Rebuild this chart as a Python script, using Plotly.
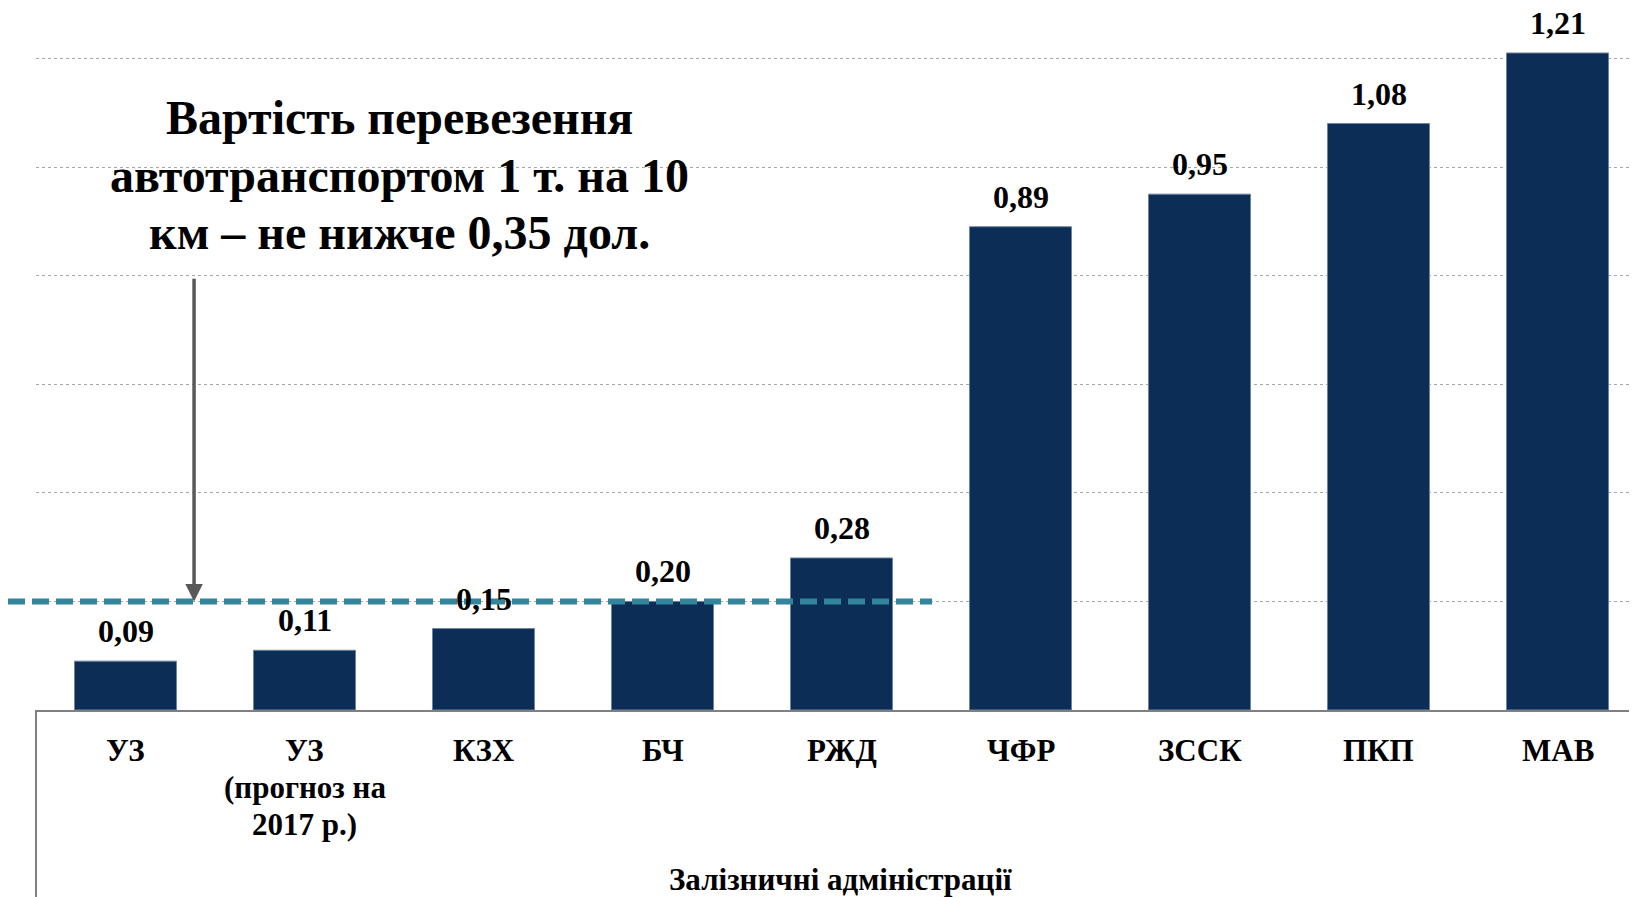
import plotly.graph_objects as go

categories = ["УЗ", "УЗ<br>(прогноз на<br>2017 р.)", "КЗХ", "БЧ", "РЖД", "ЧФР", "ЗССК", "ПКП", "МАВ"]
values = [0.09, 0.11, 0.15, 0.20, 0.28, 0.89, 0.95, 1.08, 1.21]
threshold = 0.20
note_lines = ["Вартість перевезення", "автотранспортом 1 т. на 10", "км – не нижче 0,35 дол."]
x_title = "Залізничні адміністрації"

FONT = "Liberation Serif, Times New Roman, serif"
BAR = "#0C2E56"
TEAL = "#31869B"

# page offset of 8px (body margin) is compensated in margins
PLOT_TOP = 8
BASE = 710
PLOT_H = BASE - PLOT_TOP
PX_PER_UNIT = 543.0
LEFT = 36
PLOT_W = 1645 - LEFT
CAT_W = 179.0


def px_x(page_x):
    return (page_x - LEFT) / PLOT_W


def px_y(page_y):
    return (BASE - page_y) / PLOT_H


fig = go.Figure()
fig.add_trace(go.Bar(
    x=list(range(len(categories))), y=values,
    marker=dict(color=BAR, line=dict(color="#6D84A3", width=1)),
    width=0.57, hoverinfo="skip",
))

annotations = []
for i, v in enumerate(values):
    annotations.append(dict(
        x=i, y=v, xref="x", yref="y", text="<b>%s</b>" % f"{v:.2f}".replace(".", ","),
        showarrow=False, yanchor="middle", yshift=30,
        font=dict(family=FONT, size=32, color="#000000"),
    ))

# category labels (line by line for tight spacing)
for i, c in enumerate(categories):
    for j, line in enumerate(c.split("<br>")):
        annotations.append(dict(
            x=i, y=0, xref="x", yref="y", text="<b>" + line + "</b>",
            showarrow=False, yanchor="middle", yshift=-(40 + 37 * j),
            font=dict(family=FONT, size=31, color="#000000"),
        ))

# headline note
for j, (line, py) in enumerate(zip(note_lines, [118, 175, 232])):
    annotations.append(dict(
        x=px_x(399), y=px_y(py), xref="paper", yref="paper", text="<b>" + line + "</b>",
        showarrow=False, xanchor="center", yanchor="middle",
        font=dict(family=FONT, size=48, color="#000000"),
    ))
# arrow
annotations.append(dict(
    x=0.383, y=threshold, xref="x", yref="y",
    ax=0.383, ay=0.797, axref="x", ayref="y",
    text="", showarrow=True, arrowhead=2, arrowsize=1.0, arrowwidth=3.5,
    arrowcolor="#595959",
))
# axis title
annotations.append(dict(
    x=px_x(840), y=px_y(880), xref="paper", yref="paper", text="<b>" + x_title + "</b>",
    showarrow=False, xanchor="center", yanchor="middle",
    font=dict(family=FONT, size=31, color="#000000"),
))

shapes = [
    dict(type="line", xref="paper", yref="y", x0=px_x(8), x1=px_x(932), y0=threshold, y1=threshold,
         line=dict(color=TEAL, width=6, dash="17px,7px"), layer="above"),
    dict(type="line", xref="paper", yref="paper", x0=0, x1=0, y0=0, y1=-0.3,
         line=dict(color="#808080", width=2)),
]

fig.update_layout(
    width=1637, height=897,
    margin=dict(l=LEFT - 8, r=0, t=0, b=897 - PLOT_H),
    paper_bgcolor="white", plot_bgcolor="white",
    showlegend=False,
    font=dict(family=FONT, color="#000000"),
    annotations=annotations, shapes=shapes,
)
fig.update_xaxes(
    tickmode="array", tickvals=list(range(len(categories))),
    showticklabels=False,
    range=[-0.5, -0.5 + PLOT_W / CAT_W], showline=True, linecolor="#808080", linewidth=2,
    ticks="", showgrid=False, zeroline=False,
)
fig.update_yaxes(
    range=[0, PLOT_H / PX_PER_UNIT], showticklabels=False, showgrid=True, dtick=0.2, tick0=0,
    gridcolor="#A6A6A6", gridwidth=1, griddash="dot", zeroline=False, showline=False,
)

fig.write_html("out.html")
